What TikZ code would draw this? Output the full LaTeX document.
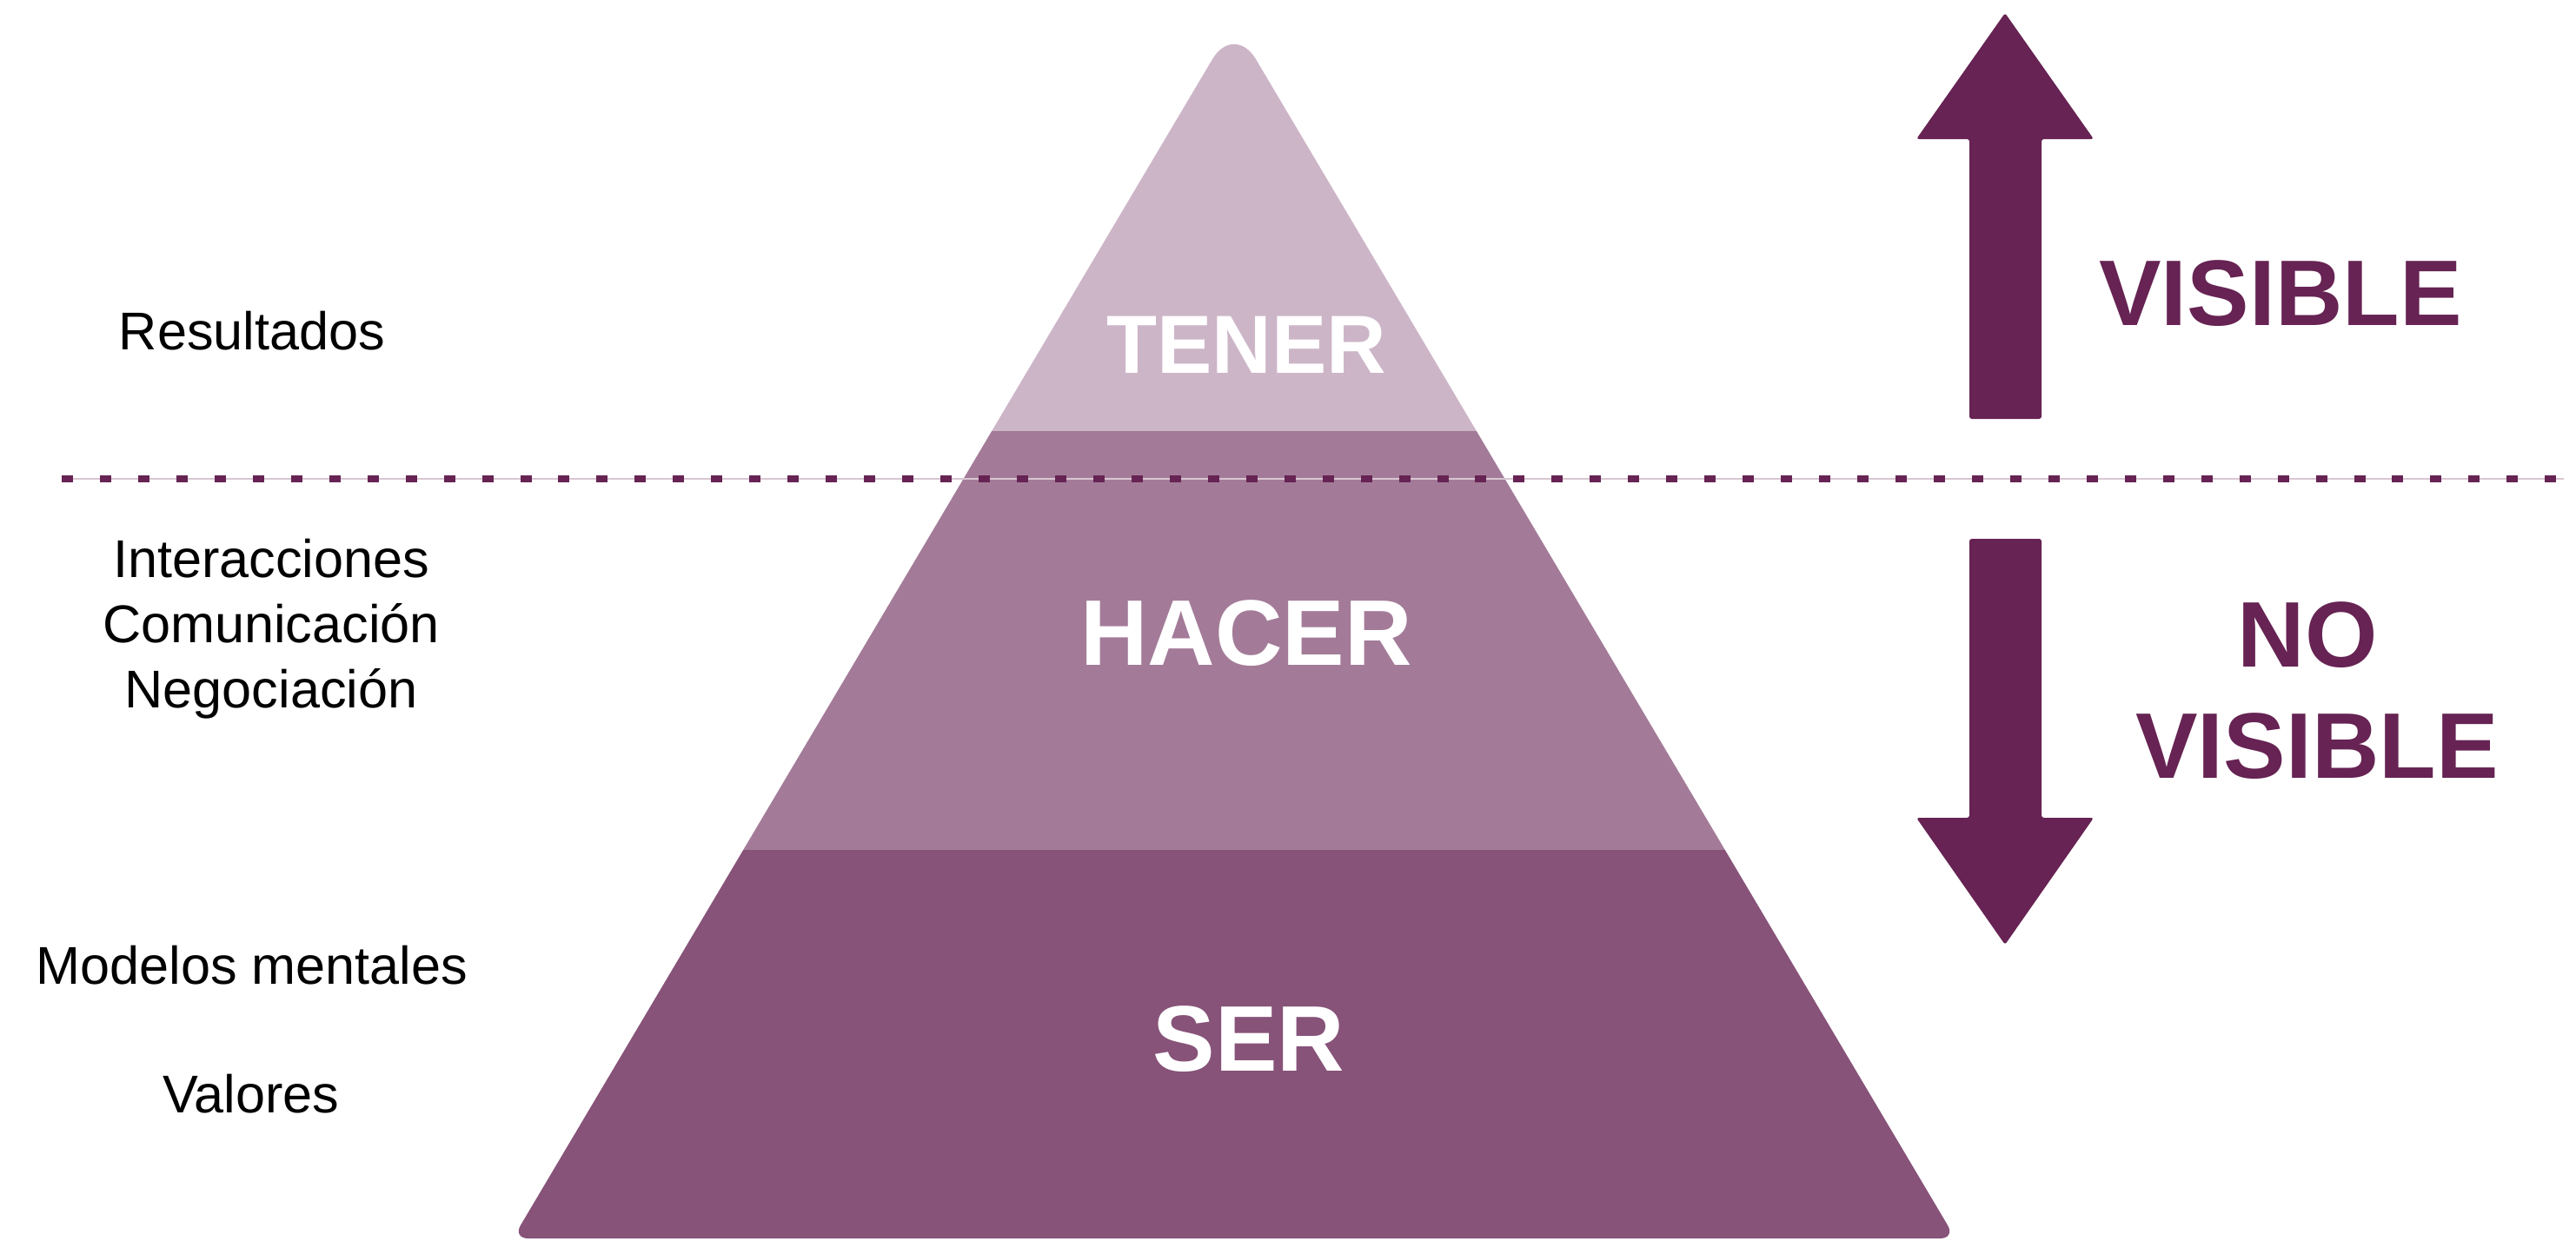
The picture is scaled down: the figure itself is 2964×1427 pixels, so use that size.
\documentclass[tikz,border=0pt]{standalone}
\usepackage{fontspec}
\setmainfont{Liberation Sans}
\definecolor{tenercol}{HTML}{CDB5C8}
\definecolor{hacercol}{HTML}{A37B98}
\definecolor{sercol}{HTML}{875379}
\definecolor{arrowcol}{HTML}{662353}
\definecolor{linecol}{HTML}{D9C6D3}
\begin{document}
\begin{tikzpicture}[x=0.01cm,y=-0.01cm,
  side/.style={anchor=base,font=\fontsize{17.4}{21.3}\selectfont,align=center},
  band/.style={anchor=base,text=white,font=\bfseries\fontsize{30.5}{36}\selectfont},
  tag/.style={anchor=base,text=arrowcol,font=\bfseries\fontsize{30.5}{36}\selectfont},
  dots/.style={arrowcol,line width=2.3pt,dash pattern=on 3.7pt off 8.8pt}]
\useasboundingbox (0,0) rectangle (2964,1427);
% pyramid
\begin{scope}
\clip (1420,1425) [rounded corners=5pt] -- (590,1425) [rounded corners=14pt] -- (1420,26)
  [rounded corners=5pt] -- (2250,1425) -- cycle;
\fill[tenercol] (500,0) rectangle (2400,496);
\fill[hacercol] (500,496) rectangle (2400,978);
\fill[sercol] (500,978) rectangle (2400,1430);
\end{scope}
\node (tener) at (1434,429) [band,font=\bfseries\fontsize{27}{32}\selectfont] {TENER};
\node (hacer) at (1434,765) [band] {HACER};
\node  (ser) at (1437,1232) [band] {SER};
% separator
\coordinate (sepL) at (71,551);
\coordinate (sepR) at (2950,551);
\draw [linecol,line width=0.6pt] (sepL) -- (sepR);
\draw [dots] (sepL) -- (sepR);
% arrows
\fill [arrowcol,rounded corners=0.8pt] (2307,15) -- (2409,160) -- (2349,160) -- (2349,482)
  -- (2266,482) -- (2266,160) -- (2205,160) -- cycle;
\fill [arrowcol,rounded corners=0.8pt] (2307,1087) -- (2409,941) -- (2349,941) -- (2349,620)
  -- (2266,620) -- (2266,941) -- (2205,941) -- cycle;
\node (vis)   at (2624,374) [tag] {VISIBLE};
\node (no)    at (2655,767) [tag] {NO};
\node (novis) at (2666,895) [tag] {VISIBLE};
% left labels
\node (res) at (290,402) [side] {Resultados};
\node (hac) at (312,814) [side] {Interacciones\\Comunicación\\Negociación};
\node (mod) at (290,1132) [side] {Modelos mentales};
\node (val) at (289,1280) [side] {Valores};
\end{tikzpicture}
\end{document}
